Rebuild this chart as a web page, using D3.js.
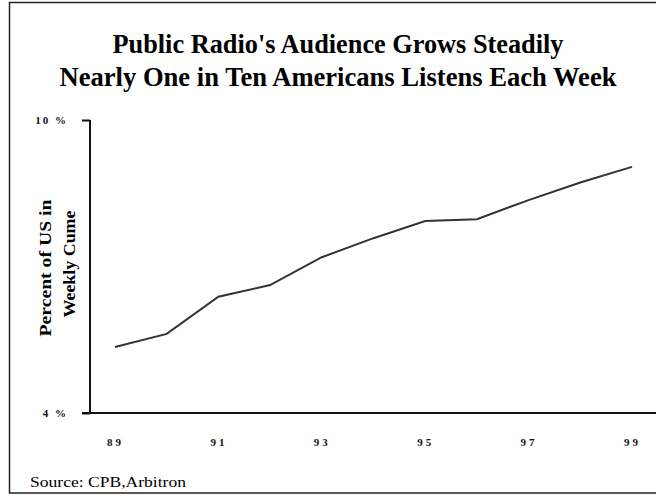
<!DOCTYPE html>
<html>
<head>
<meta charset="utf-8">
<script src="https://cdn.jsdelivr.net/npm/d3@7"></script>
<style>
  html, body { margin: 0; padding: 0; background: #fff; }
  svg { display: block; }
</style>
</head>
<body>
<svg id="chart" width="656" height="496"></svg>
<script>
// Public radio weekly cume, share of US population (%)
const years = [89, 90, 91, 92, 93, 94, 95, 96, 97, 98, 99];
const cume = [5.35, 5.62, 6.38, 6.62, 7.19, 7.58, 7.93, 7.97, 8.36, 8.72, 9.04];
const xTickValues = [89, 91, 93, 95, 97, 99];
const yTickValues = [4, 10];
const titleLines = [
  "Public Radio's Audience Grows Steadily",
  "Nearly One in Ten Americans Listens Each Week"
];
const yTitleLines = ["Percent of US in", "Weekly Cume"];
const sourceNote = "Source: CPB,Arbitron";

const svg = d3.select("#chart");
const W = 656, H = 496;
const serif = "'Liberation Serif', 'Times New Roman', serif";

// outer frame (right edge runs past the canvas)
svg.append("rect")
  .attr("x", 9.5).attr("y", 2.5)
  .attr("width", 700).attr("height", 490.5)
  .attr("fill", "none")
  .attr("stroke", "#222")
  .attr("stroke-width", 1.5);

const x = d3.scaleLinear().domain([89, 99]).range([115, 632]);
const y = d3.scaleLinear().domain([4, 10]).range([413, 120]);

// title
const tW = [451, 557];
svg.append("g").selectAll("text")
  .data(titleLines)
  .join("text")
  .attr("x", 338)
  .attr("y", (d, i) => 53 + i * 33)
  .attr("text-anchor", "middle")
  .attr("font-family", serif)
  .attr("font-weight", "bold")
  .attr("font-size", 27)
  .attr("textLength", (d, i) => tW[i])
  .attr("lengthAdjust", "spacingAndGlyphs")
  .attr("fill", "#000")
  .text(d => d);

// y axis
const yAxis = d3.axisLeft(y)
  .tickValues(yTickValues)
  .tickSize(8)
  .tickPadding(14)
  .tickFormat(d => d + " %");
const gy = svg.append("g")
  .attr("transform", "translate(90,0)")
  .call(yAxis);
gy.select(".domain").attr("stroke", "#111").attr("stroke-width", 2)
  .attr("d", `M0,${y(10)}H0V${y(4)}`);
gy.selectAll(".tick line").attr("stroke", "#111").attr("stroke-width", 2);
gy.selectAll(".tick text")
  .attr("font-family", serif)
  .attr("font-weight", "bold")
  .attr("font-size", 11)
  .attr("letter-spacing", 2)
  .attr("fill", "#111");

// x axis
const xAxis = d3.axisBottom(x)
  .tickValues(xTickValues)
  .tickSize(0)
  .tickPadding(25)
  .tickFormat(d => String(d));
const gx = svg.append("g")
  .attr("transform", `translate(0,${y(4)})`)
  .call(xAxis);
gx.select(".domain").attr("stroke", "#111").attr("stroke-width", 2)
  .attr("d", `M${82},0H${W}`);
gx.selectAll(".tick text")
  .attr("font-family", serif)
  .attr("font-weight", "bold")
  .attr("font-size", 11)
  .attr("letter-spacing", 3)
  .attr("fill", "#111");

// y axis title (two rotated lines)
const yTitleBase = [51, 75];
const yTitleLen = [137, 107];
svg.append("g").selectAll("text")
  .data(yTitleLines)
  .join("text")
  .attr("transform", (d, i) => `translate(${yTitleBase[i]},${268 - i * 4}) rotate(-90)`)
  .attr("text-anchor", "middle")
  .attr("font-family", serif)
  .attr("font-weight", "bold")
  .attr("font-size", 16)
  .attr("textLength", (d, i) => yTitleLen[i])
  .attr("lengthAdjust", "spacingAndGlyphs")
  .attr("fill", "#000")
  .text(d => d);

// data line
const line = d3.line()
  .x((d, i) => x(years[i]))
  .y(d => y(d));
svg.append("path")
  .datum(cume)
  .attr("d", line)
  .attr("fill", "none")
  .attr("stroke", "#333")
  .attr("stroke-width", 2);

// source note
svg.append("text")
  .attr("x", 30).attr("y", 487)
  .attr("font-family", serif)
  .attr("font-size", 14)
  .attr("textLength", 156)
  .attr("lengthAdjust", "spacingAndGlyphs")
  .attr("fill", "#000")
  .text(sourceNote);
</script>
</body>
</html>
